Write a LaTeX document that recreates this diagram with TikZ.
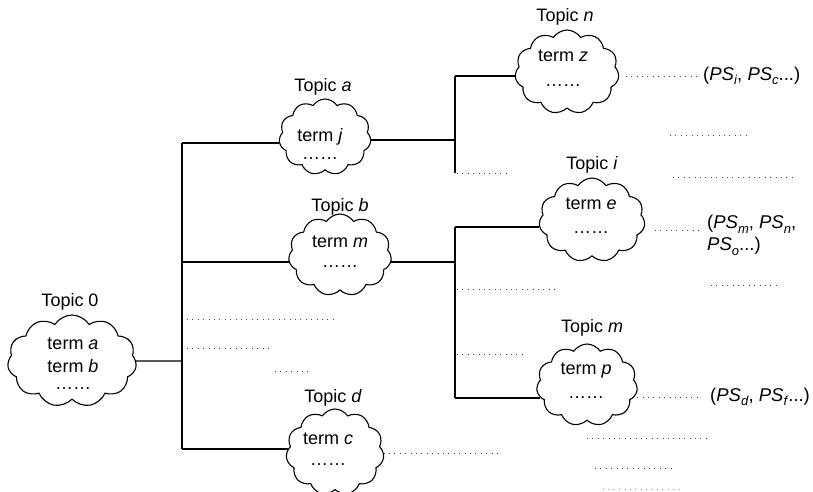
\documentclass[tikz,border=0pt]{standalone}
\usepackage{fontspec}
\setmainfont{Liberation Sans}
\usetikzlibrary{shapes.symbols, positioning}

% italic PS with a lowered index
\newcommand{\psub}[1]{\textit{PS}\raisebox{-0.45ex}{\fontsize{13}{13}\selectfont\textit{#1}}}

\tikzset{
  topic/.style={cloud, draw, line width=1.1pt, cloud puffs=11, cloud puff arc=115,
    cloud ignores aspect, inner sep=0pt},
  terms/.style={align=center, inner sep=0pt, font=\fontsize{18}{20}\selectfont},
  title/.style={inner sep=0pt, font=\fontsize{18}{20}\selectfont},
  pathset/.style={inner sep=0pt, font=\fontsize{18.5}{21}\selectfont},
  branch/.style={line width=1.2pt},
  leader/.style={line width=1pt, dash pattern=on 1pt off 4.4pt, black!75},
}

\begin{document}
\begin{tikzpicture}[x=1pt, y=-1pt, line join=round]
      \useasboundingbox (0,0) rectangle (813,491);
      % clouds
      \node[topic, minimum width=129, minimum height=92] (c0) at (72,361) {};
      \node[topic, minimum width=92, minimum height=76] (ca) at (325,137) {};
      \node[topic, minimum width=104, minimum height=84] (cn) at (567,72) {};
      \node[topic, minimum width=103, minimum height=82] (cb) at (340,255) {};
      \node[topic, minimum width=106, minimum height=84] (ci) at (592,220) {};
      \node[topic, minimum width=101, minimum height=82] (cm) at (587,385) {};
      \node[topic, minimum width=98, minimum height=86] (cd) at (335,452) {};
      % contents
      \node[terms] (t0) at (73,364) {term \textit{a}\\[3pt]term \textit{b}\\[-3pt]\dots\dots};
      \node[terms] (ta) at (320,144) {term \textit{j}\\[-2pt]\dots\dots};
      \node[terms] (tn) at (563,68) {term \textit{z}\\[5pt]\dots\dots};
      \node[terms] (tb) at (340,252) {term \textit{m}\\\dots\dots};
      \node[terms] (ti) at (591,216) {term \textit{e}\\[4pt]\dots\dots};
      \node[terms] (tm) at (586,381) {term \textit{p}\\[4pt]\dots\dots};
      \node[terms] (td) at (328,449) {term \textit{c}\\[1pt]\dots\dots};
      % titles
      \node[title] (l0) at (70,302) {Topic 0};
      \node[title] (la) at (323,87) {Topic \textit{a}};
      \node[title] (ln) at (565,17) {Topic \textit{n}};
      \node[title] (lb) at (340,207) {Topic \textit{b}};
      \node[title] (li) at (592,165) {Topic \textit{i}};
      \node[title] (lm) at (592,328) {Topic \textit{m}};
      \node[title] (ld) at (333,398) {Topic \textit{d}};
      % path sets
      \node[pathset, anchor=west] (psn) at (703,76) {(\psub{i}, \psub{c}...)};
      \node[pathset, anchor=north west, align=left] (psi) at (707,215) {(\psub{m}, \psub{n},\\[1pt]\psub{o}...)};
      \node[pathset, anchor=west] (psm) at (710,397) {(\psub{d}, \psub{f}...)};
      % junctions
      \coordinate (r0) at (182,361);
      \coordinate (ra) at (182,143);
      \coordinate (rb) at (182,262);
      \coordinate (rd) at (182,449);
      \coordinate (sa) at (455,140);
      \coordinate (sn) at (455,76);
      \coordinate (sx) at (455,173);
      \coordinate (sb) at (455,262);
      \coordinate (si) at (455,227);
      \coordinate (sm) at (455,398);
      \coordinate (pse) at (705,230);
      \coordinate (dd) at (500,453);
      % tree
      \draw[branch] (ra) -- (rd);
      \draw[branch] (c0.east) -- (r0);
      \draw[branch] (ra) -- (ra -| ca.187);
      \draw[branch] (rb) -- (rb -| cb.188);
      \draw[branch] (rd) -- (rd -| cd.176);
      \draw[branch] (sn) -- (sx);
      \draw[branch] (ca.356 |- sa) -- (sa);
      \draw[branch] (sn) -- (sn -| cn.184);
      \draw[branch] (si) -- (sm);
      \draw[branch] (cb.352 |- sb) -- (sb);
      \draw[branch] (si) -- (si -| ci.188);
      \draw[branch] (sm) -- (sm -| cm.195);
      % dotted leaders
      \draw[leader, shorten <=7pt, shorten >=3pt] (cn.east |- psn) -- (psn.west);
      \draw[leader, shorten <=10pt, shorten >=3pt] (ci.east |- pse) -- (pse);
      \draw[leader, shorten >=13pt] (cm.east |- psm) -- (psm.west);
      \draw[leader] (cd.east |- dd) -- (dd);
      \draw[leader] (457,173) -- (510,173);
      \draw[leader] (670,135) -- (748,135);
      \draw[leader] (673,177) -- (795,177);
      \draw[leader] (457,289) -- (558,289);
      \draw[leader] (457,354) -- (523,354);
      \draw[leader] (711,285) -- (780,285);
      \draw[leader] (187,319) -- (337,319);
      \draw[leader] (187,348) -- (272,348);
      \draw[leader] (275,371) -- (308,371);
      \draw[leader] (587,438) -- (707,438);
      \draw[leader] (595,468) -- (675,468);
      \draw[leader, black!40] (603,489) -- (682,489);
    \end{tikzpicture}
\end{document}
